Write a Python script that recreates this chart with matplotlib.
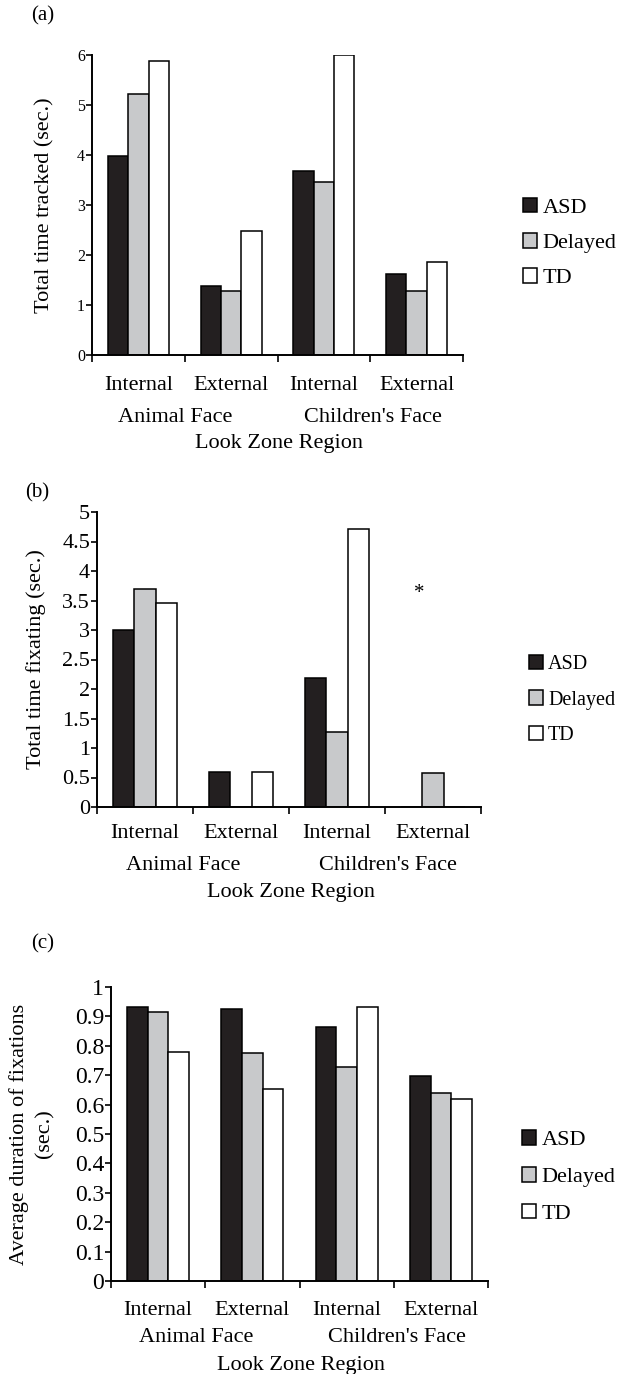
import numpy as np
import matplotlib.pyplot as plt
from matplotlib.patches import Patch
from matplotlib.ticker import FixedLocator, FuncFormatter

plt.rcParams['font.family'] = ['Liberation Serif', 'DejaVu Serif']

W, H = 618, 1374

CATEGORIES = ['Internal', 'External', 'Internal', 'External']
FACES = ['Animal Face', "Children's Face"]
GROUPS = ['ASD', 'Delayed', 'TD']
GROUP_COLORS = ['#231f20', '#c8c9cb', '#ffffff']

# (a) total time tracked (sec.)
tracked_asd = [3.98, 1.38, 3.67, 1.61]
tracked_delayed = [5.21, 1.27, 3.46, 1.27]
tracked_td = [5.87, 2.47, 6.00, 1.85]

# (b) total time fixating (sec.)
fixating_asd = [3.00, 0.59, 2.19, 0.00]
fixating_delayed = [3.69, 0.00, 1.27, 0.58]
fixating_td = [3.46, 0.59, 4.71, 0.00]

# (c) average duration of fixations (sec.)
duration_asd = [0.932, 0.926, 0.863, 0.696]
duration_delayed = [0.915, 0.775, 0.728, 0.641]
duration_td = [0.780, 0.653, 0.932, 0.618]

BAR_W = 0.22


def px_rect(left, top, right, bottom):
    return [left / W, 1 - bottom / H, (right - left) / W, (bottom - top) / H]


def draw_panel(fig, rect, series, ymax, ystep, ylabel, tick_fs, letter,
               letter_xy, legend_xy, legend_fs, legend_gap, label_px, ylabel_px):
    ax = fig.add_axes(px_rect(*rect))
    x = np.arange(len(CATEGORIES))
    for i, (vals, color) in enumerate(zip(series, GROUP_COLORS)):
        ax.bar(x + (i - 1) * BAR_W, vals, BAR_W, color=color,
               edgecolor='black', linewidth=1.1, zorder=2)

    ax.set_xlim(-0.5, len(CATEGORIES) - 0.5)
    ax.set_ylim(0, ymax)
    ax.set_yticks(np.arange(0, ymax + ystep / 2, ystep))
    ax.yaxis.set_major_formatter(FuncFormatter(lambda v, p: f'{v:g}'))
    ax.tick_params(axis='y', direction='out', length=4, width=1.2,
                   pad=1, labelsize=tick_fs)

    # category boundaries get tick marks, labels sit in between
    ax.set_xticks(x)
    ax.set_xticklabels([])
    ax.xaxis.set_minor_locator(FixedLocator(np.arange(-0.5, len(CATEGORIES), 1.0)))
    ax.tick_params(axis='x', which='major', length=0)
    ax.tick_params(axis='x', which='minor', direction='out', length=5, width=1.2)

    for s in ['top', 'right']:
        ax.spines[s].set_visible(False)
    for s in ['left', 'bottom']:
        ax.spines[s].set_linewidth(1.4)

    cat_off, face_off, region_off = label_px
    for xi, name in zip(x, CATEGORIES):
        ax.annotate(name, xy=(xi, 0), xycoords=('data', 'axes fraction'),
                    xytext=(0, -cat_off), textcoords='offset pixels',
                    ha='center', va='baseline', fontsize=16)
    for xf, name in zip([0.40, 2.53], FACES):
        ax.annotate(name, xy=(xf, 0), xycoords=('data', 'axes fraction'),
                    xytext=(0, -face_off), textcoords='offset pixels',
                    ha='center', va='baseline', fontsize=16)
    ax.annotate('Look Zone Region', xy=(1.52, 0), xycoords=('data', 'axes fraction'),
                xytext=(0, -region_off), textcoords='offset pixels',
                ha='center', va='baseline', fontsize=16)

    top, bottom = rect[1], rect[3]
    fig.text(ylabel_px / W, 1 - (top + bottom) / 2 / H, ylabel, rotation=90,
             ha='center', va='center', fontsize=16, multialignment='center',
             linespacing=1.45)

    fig.text(letter_xy[0] / W, 1 - letter_xy[1] / H, letter,
             ha='center', va='center', fontsize=15)

    handles = [Patch(facecolor=c, edgecolor='black', linewidth=1.1)
               for c in GROUP_COLORS]
    box = 14 / (legend_fs * 100 / 72)
    fig.legend(handles, GROUPS, loc='center left',
               bbox_to_anchor=(legend_xy[0] / W, 1 - legend_xy[1] / H),
               frameon=False, fontsize=legend_fs, handlelength=box,
               handleheight=box, handletextpad=0.25, labelspacing=legend_gap,
               borderpad=0, borderaxespad=0)
    return ax


fig = plt.figure(figsize=(W / 100, H / 100), dpi=100)

draw_panel(fig, (92, 55, 463, 355),
           [tracked_asd, tracked_delayed, tracked_td],
           6, 1, 'Total time tracked (sec.)', 11.5, '(a)', (43, 16),
           (523, 243), 16, 0.68, (35, 67, 93), 45)

ax_b = draw_panel(fig, (97, 512, 481, 807),
                  [fixating_asd, fixating_delayed, fixating_td],
                  5, 0.5, 'Total time fixating (sec.)', 16, '(b)', (37, 493),
                  (529, 700), 14.5, 0.8, (31, 63, 90), 36)
ax_b.text(2.86, 3.62, '*', ha='center', va='center', fontsize=15)

draw_panel(fig, (111, 987, 488, 1281),
           [duration_asd, duration_delayed, duration_td],
           1, 0.1, 'Average duration of fixations\n(sec.)', 17, '(c)', (43, 944),
           (522, 1177), 16, 0.75, (34, 61, 89), 32)

fig.savefig('out.png', dpi=100)
